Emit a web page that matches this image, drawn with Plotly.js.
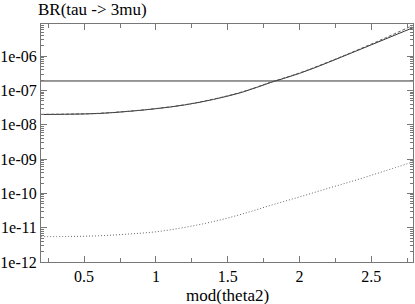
<!DOCTYPE html>
<html>
<head>
<meta charset="utf-8">
<script src="https://cdn.plot.ly/plotly-3.0.1.min.js"></script>
<style>
html,body{margin:0;padding:0;background:#fff;}
#chart{width:415px;height:304px;}
</style>
</head>
<body>
<div id="chart"></div>
<script>
// mod(theta2) sample points
const theta = [0.2, 0.4, 0.6, 0.8, 1.0, 1.2, 1.4, 1.6, 1.8, 2.0, 2.2, 2.4, 2.6, 2.79];
// BR(tau -> 3mu) curves
const brSolid  = [2.0e-8, 2.04e-8, 2.14e-8, 2.45e-8, 2.95e-8, 3.8e-8, 5.5e-8, 8.9e-8, 1.72e-7, 3.16e-7, 6.6e-7, 1.45e-6, 3.2e-6, 6.8e-6];
const brDashed = [2.02e-8, 2.06e-8, 2.16e-8, 2.47e-8, 2.98e-8, 3.85e-8, 5.6e-8, 9.1e-8, 1.75e-7, 3.25e-7, 6.8e-7, 1.5e-6, 3.45e-6, 8.0e-6];
const brDotted = [5.5e-12, 5.56e-12, 5.8e-12, 6.5e-12, 7.6e-12, 1.02e-11, 1.51e-11, 2.5e-11, 4.5e-11, 7.9e-11, 1.41e-10, 2.5e-10, 4.6e-10, 8.3e-10];
// experimental bound (horizontal line)
const limitX = [0.2, 2.79];
const limitY = [1.9e-7, 1.9e-7];
// tick labels
const yTickVals = [1e-12, 1e-11, 1e-10, 1e-9, 1e-8, 1e-7, 1e-6];
const yTickText = ['1e-12', '1e-11', '1e-10', '1e-09', '1e-08', '1e-07', '1e-06'];
const xTickVals = [0.5, 1, 1.5, 2, 2.5];
const xTickText = ['0.5', '1', '1.5', '2', '2.5'];
const titleText = 'BR(tau -> 3mu)';
const xTitleText = 'mod(theta2)';

const yMinor = [];
for (let e = -12; e <= -5; e++) {
  for (let m = 2; m <= 9; m++) yMinor.push(m * Math.pow(10, e));
}
const xMinor = [0.25, 0.75, 1.25, 1.75, 2.25, 2.75];

const serif = 'Liberation Serif';

const traces = [
  {x: limitX, y: limitY, mode: 'lines', line: {color: '#333', width: 1}},
  {x: theta, y: brSolid, mode: 'lines', line: {color: '#333', width: 1, shape: 'spline'}},
  {x: theta, y: brDashed, mode: 'lines', line: {color: '#555', width: 1, dash: '3px,2px', shape: 'spline'}},
  {x: theta, y: brDotted, mode: 'lines', line: {color: '#666', width: 1, dash: '1px,2px', shape: 'spline'}}
];

const layout = {
  width: 415, height: 304,
  margin: {l: 41, r: 2, t: 24, b: 42},
  paper_bgcolor: '#fff', plot_bgcolor: '#fff',
  showlegend: false,
  font: {family: serif, size: 16, color: '#000'},
  xaxis: {
    range: [0.2, 2.79], showgrid: false, zeroline: false,
    showline: true, linecolor: '#777', linewidth: 1, mirror: 'ticks',
    ticks: 'inside', ticklen: 6, tickcolor: '#777',
    tickvals: xTickVals, ticktext: xTickText,
    tickfont: {family: serif, size: 16, color: '#000'},
    minor: {tickvals: xMinor, ticks: 'inside', ticklen: 4, tickcolor: '#777'}
  },
  yaxis: {
    type: 'log', range: [-12, -5.06], showgrid: false, zeroline: false,
    showline: true, linecolor: '#777', linewidth: 1, mirror: 'ticks',
    ticks: 'inside', ticklen: 6, tickcolor: '#777',
    tickvals: yTickVals, ticktext: yTickText,
    tickfont: {family: serif, size: 16, color: '#000'},
    minor: {tickvals: yMinor, ticks: 'inside', ticklen: 3, tickcolor: '#777'}
  },
  annotations: [
    {text: titleText, xref: 'paper', yref: 'paper', x: -5/372, y: 1 + 14/238,
     xanchor: 'left', yanchor: 'middle', showarrow: false, font: {family: serif, size: 17, color: '#000'}},
    {text: xTitleText, xref: 'paper', yref: 'paper', x: (227 - 41)/372, y: -33/238,
     xanchor: 'center', yanchor: 'middle', showarrow: false, font: {family: serif, size: 17, color: '#000'}}
  ]
};

Plotly.newPlot('chart', traces, layout, {staticPlot: true, displayModeBar: false});
</script>
</body>
</html>
